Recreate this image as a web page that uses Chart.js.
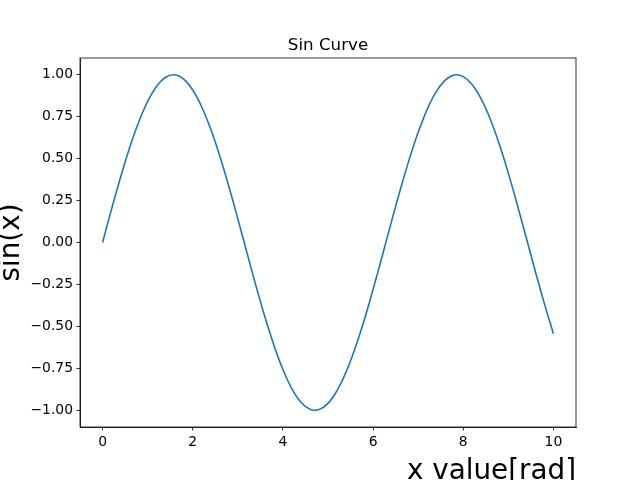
<!DOCTYPE html>
<html>
<head>
<meta charset="utf-8">
<script src="https://cdn.jsdelivr.net/npm/chart.js@4/dist/chart.umd.min.js"></script>
<style>
  html, body { margin: 0; padding: 0; background: #fff; }
  #c { display: block; }
</style>
</head>
<body>
<canvas id="c" width="640" height="480"></canvas>
<script>
// values
const xValues = [
  0, 0.2, 0.4, 0.6, 0.8, 1.0, 1.2, 1.4, 1.6, 1.8,
  2.0, 2.2, 2.4, 2.6, 2.8, 3.0, 3.2, 3.4, 3.6, 3.8,
  4.0, 4.2, 4.4, 4.6, 4.8, 5.0, 5.2, 5.4, 5.6, 5.8,
  6.0, 6.2, 6.4, 6.6, 6.8, 7.0, 7.2, 7.4, 7.6, 7.8,
  8.0, 8.2, 8.4, 8.6, 8.8, 9.0, 9.2, 9.4, 9.6, 9.8, 10.0
];
const yValues = [
  0.000, 0.199, 0.389, 0.565, 0.717, 0.841, 0.932, 0.985, 1.000, 0.974,
  0.909, 0.808, 0.675, 0.516, 0.335, 0.141, -0.058, -0.256, -0.443, -0.612,
  -0.757, -0.872, -0.952, -0.994, -0.996, -0.959, -0.883, -0.773, -0.631, -0.465,
  -0.279, -0.083, 0.117, 0.312, 0.494, 0.657, 0.794, 0.899, 0.968, 0.999,
  0.989, 0.941, 0.855, 0.735, 0.585, 0.412, 0.223, 0.025, -0.174, -0.366, -0.544
];
const xTicks = [0, 2, 4, 6, 8, 10];
const yTicks = [-1.0, -0.75, -0.5, -0.25, 0, 0.25, 0.5, 0.75, 1.0];

const titleText = "Sin Curve";
const xLabel = "x value[rad]";
const yLabel = "sin(x)";

const FONT = "'DejaVu Sans', sans-serif";

const decorations = {
  id: "decorations",
  beforeDraw(chart) {
    const { ctx } = chart;
    ctx.save();
    ctx.fillStyle = "#fff";
    ctx.fillRect(0, 0, chart.width, chart.height);
    ctx.restore();
  },
  afterDraw(chart) {
    const { ctx, chartArea } = chart;
    ctx.save();
    // axes frame
    ctx.strokeStyle = "#000";
    ctx.lineWidth = 0.8;
    ctx.strokeRect(chartArea.left, chartArea.top,
      chartArea.right - chartArea.left, chartArea.bottom - chartArea.top);

    ctx.fillStyle = "#000";
    // title
    ctx.font = "16.7px " + FONT;
    ctx.textAlign = "center";
    ctx.textBaseline = "alphabetic";
    ctx.fillText(titleText, (chartArea.left + chartArea.right) / 2, chartArea.top - 8.5);

    // x label, right aligned
    ctx.font = "27.8px " + FONT;
    ctx.textAlign = "right";
    ctx.fillText(xLabel, chartArea.right, 479);

    // y label, rotated
    ctx.translate(19, (chartArea.top + chartArea.bottom) / 2);
    ctx.rotate(-Math.PI / 2);
    ctx.textAlign = "center";
    ctx.fillText(yLabel, 0, 0);
    ctx.restore();
  },
};

new Chart(document.getElementById("c"), {
  type: "line",
  data: {
    datasets: [
      {
        data: xValues.map((x, i) => ({ x: x, y: yValues[i] })),
        borderColor: "#1f77b4",
        borderWidth: 1.6,
        pointRadius: 0,
        fill: false,
        tension: 0.4,
      },
    ],
  },
  options: {
    responsive: false,
    animation: false,
    layout: { padding: { left: 10, right: 64, top: 58, bottom: 23 } },
    plugins: {
      legend: { display: false },
      tooltip: { enabled: false },
      title: { display: false },
    },
    scales: {
      x: {
        type: "linear",
        min: -0.5,
        max: 10.5,
        afterBuildTicks: (scale) => {
          scale.ticks = xTicks.map((v) => ({ value: v }));
        },
        afterFit: (scale) => {
          scale.height = 30;
        },
        grid: {
          drawOnChartArea: false,
          drawTicks: true,
          tickLength: 3.5,
          tickColor: "#000",
          tickWidth: 0.8,
        },
        border: { display: true, color: "#000", width: 0.8 },
        ticks: {
          color: "#000",
          font: { family: FONT, size: 13.9 },
          padding: 3.5,
          maxRotation: 0,
          callback: (v) => String(v),
        },
      },
      y: {
        type: "linear",
        min: -1.0999,
        max: 1.0999,
        afterBuildTicks: (scale) => {
          scale.ticks = yTicks.map((v) => ({ value: v }));
        },
        afterFit: (scale) => {
          scale.width = 70;
        },
        grid: {
          drawOnChartArea: false,
          drawTicks: true,
          tickLength: 3.5,
          tickColor: "#000",
          tickWidth: 0.8,
        },
        border: { display: true, color: "#000", width: 0.8 },
        ticks: {
          color: "#000",
          font: { family: FONT, size: 13.9 },
          padding: 3.5,
          callback: (v) => (v < 0 ? "\u2212" + Math.abs(v).toFixed(2) : v.toFixed(2)),
        },
      },
    },
  },
  plugins: [decorations],
});
</script>
</body>
</html>
